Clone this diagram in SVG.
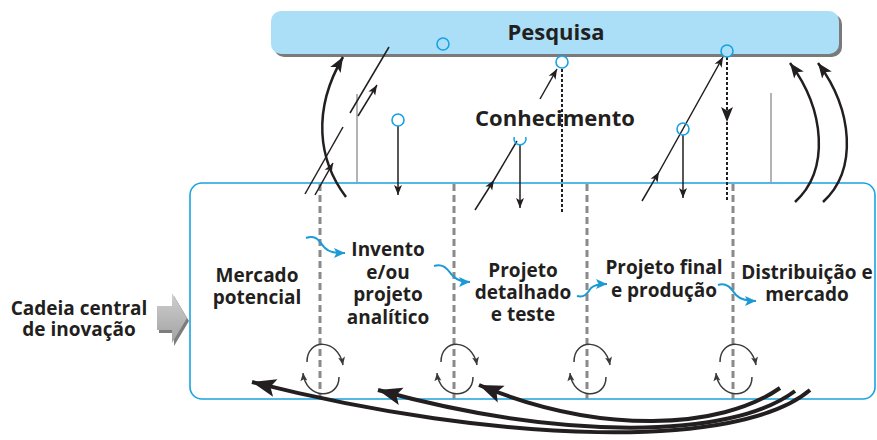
<svg xmlns="http://www.w3.org/2000/svg" width="877" height="440" viewBox="0 0 877 440">
<style>
.t{font-family:"Open Sans","Liberation Sans",sans-serif;font-weight:700;fill:#231f20;text-anchor:middle}
.st{font-size:19px}
.thin{fill:none;stroke:#231f20;stroke-width:1.5}
.curve{fill:none;stroke:#231f20;stroke-width:2.5}
.big{fill:none;stroke:#231f20;stroke-width:4}
.dot{fill:none;stroke:#231f20;stroke-width:2;stroke-dasharray:3 2}
.div{fill:none;stroke:#8a8a8a;stroke-width:3;stroke-dasharray:7 4}
.gl{fill:none;stroke:#9a9a9a;stroke-width:1.5}
.cyc{fill:none;stroke:#3a3a3a;stroke-width:1.5}
.wig{fill:none;stroke:#1b9ad6;stroke-width:2}
.circ{fill:#fff;stroke:#17a2e4;stroke-width:1.6}
</style>
<defs>
<marker id="mThin" markerUnits="userSpaceOnUse" markerWidth="11" markerHeight="9" refX="10" refY="4" orient="auto" overflow="visible"><path d="M0,0 L10,4 L0,8 L2.5,4 z" fill="#231f20"/></marker>
<marker id="mCurve" markerUnits="userSpaceOnUse" markerWidth="16" markerHeight="13" refX="15" refY="6" orient="auto" overflow="visible"><path d="M0,0 L15,6 L0,12 L3.5,6 z" fill="#231f20"/></marker>
<marker id="mBig" markerUnits="userSpaceOnUse" markerWidth="26" markerHeight="20" refX="24" refY="9" orient="auto" overflow="visible"><path d="M0,0 L24,9 L0,18 L5,9 z" fill="#231f20"/></marker>
<marker id="mCyc" markerUnits="userSpaceOnUse" markerWidth="9" markerHeight="8" refX="8" refY="3.5" orient="auto" overflow="visible"><path d="M0,0 L8,3.5 L0,7 L1.8,3.5 z" fill="#3a3a3a"/></marker>
<marker id="mBlue" markerUnits="userSpaceOnUse" markerWidth="12" markerHeight="11" refX="11" refY="5" orient="auto" overflow="visible"><path d="M0,0 L11,5 L0,10 L2.5,5 z" fill="#1b9ad6"/></marker>
<linearGradient id="gArrow" x1="0" y1="0" x2="0" y2="1"><stop offset="0" stop-color="#cfcfcf"/><stop offset="1" stop-color="#a2a2a2"/></linearGradient>
</defs>
<rect width="877" height="440" fill="#fff"/>

<g id="pesquisa">
<rect x="274" y="14" width="568" height="43" rx="10" fill="#7a7a7a"/>
<rect x="271" y="11" width="568" height="43" rx="10" fill="#abdff8"/>
<text class="t" x="556" y="40" font-size="22">Pesquisa</text>
</g>

<g id="conhecimento">
<text class="t" x="555" y="126" font-size="22">Conhecimento</text>
</g>

<g id="cadeia">
<polygon points="159,309 174,309 174,296 189,321 174,346 174,333 159,333" fill="#7d7d7d"/>
<polygon points="157,306 172,306 172,293 187,318 172,343 172,330 157,330" fill="url(#gArrow)"/>
<text class="t st" x="79" y="315">Cadeia central</text>
<text class="t st" x="79" y="336">de inovação</text>
</g>

<g id="cadeia-box">
<rect x="190" y="183" width="685" height="216" rx="12" fill="none" stroke="#1aa3e0" stroke-width="1.6"/>
</g>

<g id="mercado-potencial">
<text class="t st" x="257" y="282">Mercado</text>
<text class="t st" x="257" y="304">potencial</text>
</g>
<g id="invento">
<text class="t st" x="388" y="256">Invento</text>
<text class="t st" x="388" y="279">e/ou</text>
<text class="t st" x="388" y="301">projeto</text>
<text class="t st" x="388" y="324">analítico</text>
</g>
<g id="projeto-detalhado">
<text class="t st" x="523" y="277">Projeto</text>
<text class="t st" x="523" y="299">detalhado</text>
<text class="t st" x="523" y="321">e teste</text>
</g>
<g id="projeto-final">
<text class="t st" x="664" y="274">Projeto final</text>
<text class="t st" x="664" y="297">e produção</text>
</g>
<g id="distribuicao">
<text class="t st" x="807" y="279">Distribuição e</text>
<text class="t st" x="807" y="301">mercado</text>
</g>

<g id="connectors">
<!-- stage dividers -->
<line class="div" x1="320" y1="184" x2="320" y2="399"/>
<line class="div" x1="454" y1="184" x2="454" y2="399"/>
<line class="div" x1="587" y1="184" x2="587" y2="399"/>
<line class="div" x1="733" y1="184" x2="733" y2="399"/>

<!-- gray verticals -->
<line class="gl" x1="357" y1="94" x2="357" y2="183"/>
<line class="gl" x1="771" y1="93" x2="771" y2="183"/>

<!-- cycle arrows -->
<g marker-end="url(#mCyc)">
<path class="cyc" d="M307 362 C307 338 338 338 343 365"/>
<path class="cyc" d="M339 377 C339 400 306 400 303 373"/>
<path class="cyc" d="M441 362 C441 338 472 338 477 365"/>
<path class="cyc" d="M473 377 C473 400 440 400 437 373"/>
<path class="cyc" d="M574 362 C574 338 605 338 610 365"/>
<path class="cyc" d="M606 377 C606 400 573 400 570 373"/>
<path class="cyc" d="M720 362 C720 338 751 338 756 365"/>
<path class="cyc" d="M752 377 C752 400 719 400 716 373"/>
</g>

<!-- blue wiggles -->
<g marker-end="url(#mBlue)">
<path class="wig" d="M306 238 C317 234 320 243 325 248 C329 252 334 253 345 253"/>
<path class="wig" d="M434 266 C445 263 448 271 453 276 C457 280 461 282 470 282"/>
<path class="wig" d="M577 296 C586 298 588 292 591 288 C594 285 598 284 607 284"/>
<path class="wig" d="M718 285 C728 282 732 290 736 295 C740 299 745 301 756 301"/>
</g>

<!-- curved arrows up to Pesquisa -->
<path class="curve" d="M346 197 C318 160 312 110 343 57" marker-end="url(#mCurve)"/>
<path class="curve" d="M795 202 C830 170 825 110 790 63" marker-end="url(#mCurve)"/>
<path class="curve" d="M823 202 C858 170 853 110 818 63" marker-end="url(#mCurve)"/>

<!-- left broken lines -->
<line class="thin" x1="305" y1="194" x2="343" y2="127"/>
<line class="thin" x1="315" y1="195" x2="333" y2="163" marker-end="url(#mThin)"/>
<line class="thin" x1="350" y1="113" x2="389" y2="47"/>
<line class="thin" x1="358" y1="116" x2="377" y2="85" marker-end="url(#mThin)"/>

<!-- circles and knowledge arrows -->
<circle class="circ" cx="443" cy="44" r="6" fill="none" style="fill:none"/>
<line class="thin" x1="398" y1="126" x2="398" y2="195" marker-end="url(#mThin)"/>
<circle class="circ" cx="398" cy="120" r="6"/>

<line class="dot" x1="562" y1="69" x2="562" y2="212"/>
<line class="thin" x1="540" y1="99" x2="557" y2="69" marker-end="url(#mThin)"/>
<circle class="circ" cx="562" cy="62" r="6"/>

<path class="thin" d="M475 210 L494 180 L517 141" marker-mid="url(#mThin)"/>
<line class="thin" x1="520" y1="145" x2="520" y2="208" marker-end="url(#mThin)"/>
<path class="circ" style="fill:none" d="M514.3 137 A6 6 0 1 0 525.7 137"/>

<path class="thin" d="M642 201 L659 172 L723 57" marker-mid="url(#mThin)" marker-end="url(#mThin)"/>
<path class="dot" d="M727 57 L727 122 L727 201" marker-mid="url(#mCurve)"/>
<circle class="circ" cx="727" cy="51" r="6" style="fill:#abdff8"/>
<line class="thin" x1="683" y1="135" x2="683" y2="198" marker-end="url(#mThin)"/>
<circle class="circ" cx="683" cy="129" r="6" style="fill:none"/>

<!-- big feedback arrows -->
<path class="big" d="M810 390 C740 450 500 445 252 382" marker-end="url(#mBig)"/>
<path class="big" d="M795 391 C730 440 560 440 378 390" marker-end="url(#mBig)"/>
<path class="big" d="M780 388 C720 430 600 435 479 385" marker-end="url(#mBig)"/>
</g>
</svg>
